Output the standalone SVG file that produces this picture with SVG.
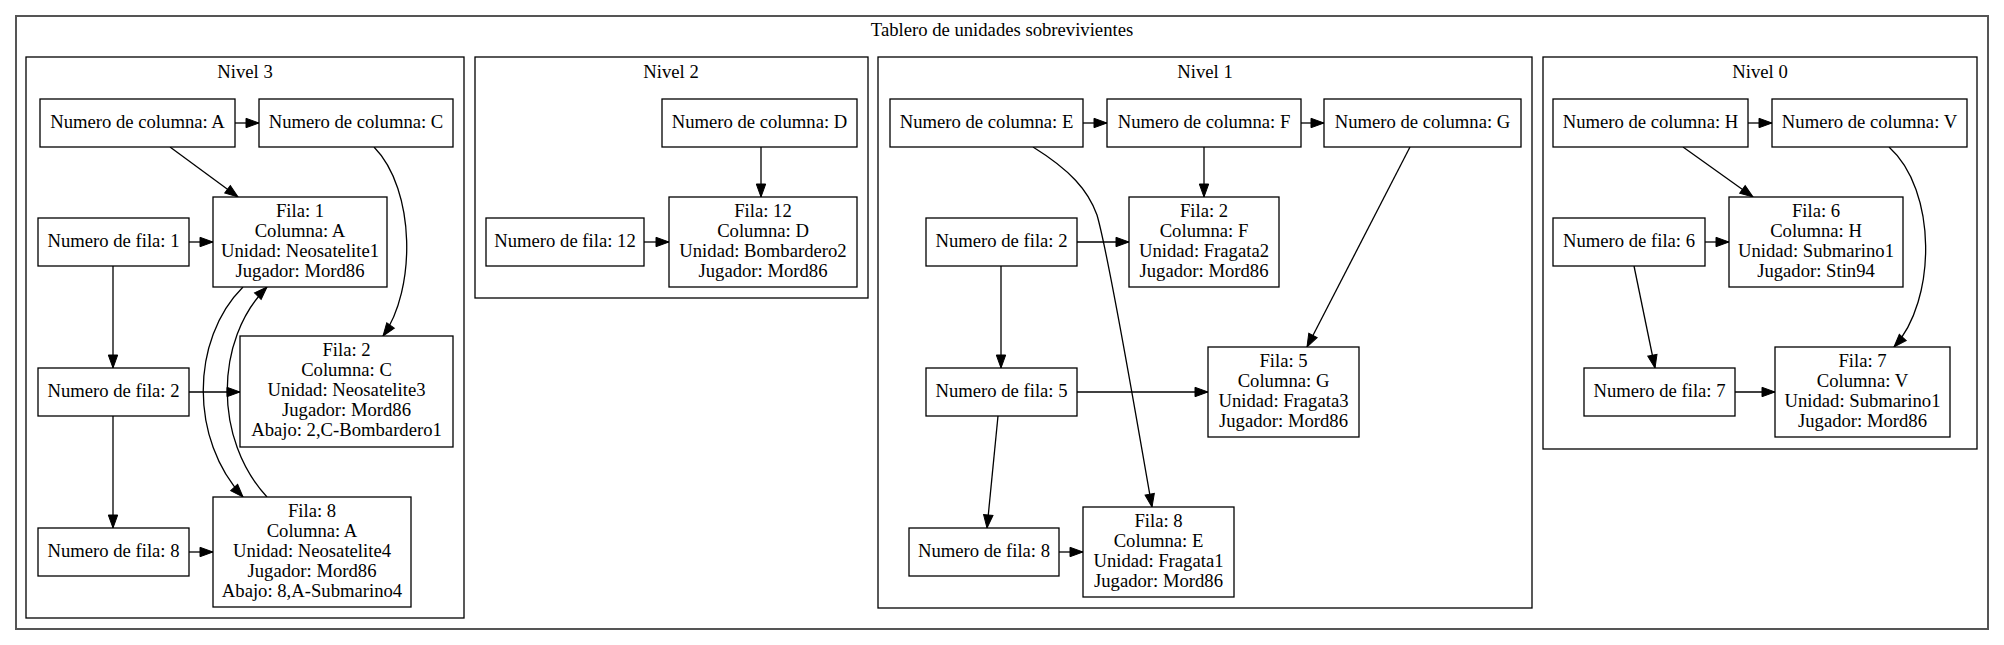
<svg xmlns="http://www.w3.org/2000/svg" width="2004" height="645" viewBox="0 0 2004 645" font-family="'Liberation Serif', 'DejaVu Serif', serif">
<style>
text{font-family:'Liberation Serif','DejaVu Serif',serif;font-size:18.67px;fill:#000;text-anchor:middle}
.cl{fill:none;stroke:#000;stroke-width:1.3}
.nd rect{fill:#fff;stroke:#000;stroke-width:1.3}
.ed path{fill:none;stroke:#000;stroke-width:1.3;marker-end:url(#ah)}
</style>
<defs>
<marker id="ah" markerUnits="userSpaceOnUse" markerWidth="14" markerHeight="10" refX="13" refY="4.7" orient="auto" overflow="visible">
<path d="M0,0 L13,4.7 L0,9.4 z" fill="#000" stroke="#000" stroke-width="1"/>
</marker>
</defs>
<rect x="0" y="0" width="2004" height="645" fill="#fff"/>
<g id="root">
<rect x="16" y="16" width="1972" height="613" fill="none" stroke="#555" stroke-width="2"/>
<text x="1002" y="36">Tablero de unidades sobrevivientes</text>
</g>
<g id="cluster_n3"><rect class="cl" x="26" y="57" width="438" height="561"/><text x="245" y="78">Nivel 3</text></g>
<g id="cluster_n2"><rect class="cl" x="475" y="57" width="393" height="241"/><text x="671" y="78">Nivel 2</text></g>
<g id="cluster_n1"><rect class="cl" x="878" y="57" width="654" height="551"/><text x="1205" y="78">Nivel 1</text></g>
<g id="cluster_n0"><rect class="cl" x="1543" y="57" width="434" height="392"/><text x="1760" y="78">Nivel 0</text></g>

<g id="edges" class="ed">
<path d="M235,123 L259,123"/>
<path d="M170,147 L238,197"/>
<path d="M374,147 C416,190 416,290 383,336"/>
<path d="M189,242 L213,242"/>
<path d="M113,266 L113,368"/>
<path d="M189,392 L240,392"/>
<path d="M113,416 L113,528"/>
<path d="M189,552 L213,552"/>
<path d="M243,287 C190,340 190,440 243,497"/>
<path d="M267,497 C214,440 214,340 267,287"/>
<path d="M761,147 L761,197"/>
<path d="M644,242 L669,242"/>
<path d="M1083,123 L1107,123"/>
<path d="M1301,123 L1324,123"/>
<path d="M1204,147 L1204,197"/>
<path d="M1033,147 C1070,170 1088,190 1097,215 C1110,260 1140,440 1152,507"/>
<path d="M1077,242 L1129,242"/>
<path d="M1001,266 L1001,368"/>
<path d="M1077,392 L1208,392"/>
<path d="M998,416 L987,528"/>
<path d="M1059,552 L1083,552"/>
<path d="M1410,147 L1307,347"/>
<path d="M1748,123 L1772,123"/>
<path d="M1683,147 L1753,197"/>
<path d="M1889,147 C1937,190 1937,300 1894,347"/>
<path d="M1705,242 L1729,242"/>
<path d="M1634,266 L1655,368"/>
<path d="M1735,392 L1775,392"/>
</g>

<g id="n3_colA" class="nd"><rect x="40" y="99" width="195" height="48"/><text x="137.5" y="128">Numero de columna: A</text></g>
<g id="n3_colC" class="nd"><rect x="259" y="99" width="194" height="48"/><text x="356" y="128">Numero de columna: C</text></g>
<g id="n3_fila1" class="nd"><rect x="213" y="197" width="174" height="90"/><text x="300" y="217">Fila: 1</text><text x="300" y="237">Columna: A</text><text x="300" y="257">Unidad: Neosatelite1</text><text x="300" y="277">Jugador: Mord86</text></g>
<g id="n3_row1" class="nd"><rect x="38" y="218" width="151" height="48"/><text x="113.5" y="247">Numero de fila: 1</text></g>
<g id="n3_row2" class="nd"><rect x="38" y="368" width="151" height="48"/><text x="113.5" y="397">Numero de fila: 2</text></g>
<g id="n3_fila2" class="nd"><rect x="240" y="336" width="213" height="111"/><text x="346.5" y="356">Fila: 2</text><text x="346.5" y="376">Columna: C</text><text x="346.5" y="396">Unidad: Neosatelite3</text><text x="346.5" y="416">Jugador: Mord86</text><text x="346.5" y="436">Abajo: 2,C-Bombardero1</text></g>
<g id="n3_row8" class="nd"><rect x="38" y="528" width="151" height="48"/><text x="113.5" y="557">Numero de fila: 8</text></g>
<g id="n3_fila8" class="nd"><rect x="213" y="497" width="198" height="110"/><text x="312" y="517">Fila: 8</text><text x="312" y="537">Columna: A</text><text x="312" y="557">Unidad: Neosatelite4</text><text x="312" y="577">Jugador: Mord86</text><text x="312" y="597">Abajo: 8,A-Submarino4</text></g>

<g id="n2_colD" class="nd"><rect x="662" y="99" width="195" height="48"/><text x="759.5" y="128">Numero de columna: D</text></g>
<g id="n2_fila12" class="nd"><rect x="669" y="197" width="188" height="90"/><text x="763" y="217">Fila: 12</text><text x="763" y="237">Columna: D</text><text x="763" y="257">Unidad: Bombardero2</text><text x="763" y="277">Jugador: Mord86</text></g>
<g id="n2_row12" class="nd"><rect x="486" y="218" width="158" height="48"/><text x="565" y="247">Numero de fila: 12</text></g>

<g id="n1_colE" class="nd"><rect x="890" y="99" width="193" height="48"/><text x="986.5" y="128">Numero de columna: E</text></g>
<g id="n1_colF" class="nd"><rect x="1107" y="99" width="194" height="48"/><text x="1204" y="128">Numero de columna: F</text></g>
<g id="n1_colG" class="nd"><rect x="1324" y="99" width="197" height="48"/><text x="1422.5" y="128">Numero de columna: G</text></g>
<g id="n1_fila2" class="nd"><rect x="1129" y="197" width="150" height="90"/><text x="1204" y="217">Fila: 2</text><text x="1204" y="237">Columna: F</text><text x="1204" y="257">Unidad: Fragata2</text><text x="1204" y="277">Jugador: Mord86</text></g>
<g id="n1_row2" class="nd"><rect x="926" y="218" width="151" height="48"/><text x="1001.5" y="247">Numero de fila: 2</text></g>
<g id="n1_row5" class="nd"><rect x="926" y="368" width="151" height="48"/><text x="1001.5" y="397">Numero de fila: 5</text></g>
<g id="n1_fila5" class="nd"><rect x="1208" y="347" width="151" height="90"/><text x="1283.5" y="367">Fila: 5</text><text x="1283.5" y="387">Columna: G</text><text x="1283.5" y="407">Unidad: Fragata3</text><text x="1283.5" y="427">Jugador: Mord86</text></g>
<g id="n1_row8" class="nd"><rect x="909" y="528" width="150" height="48"/><text x="984" y="557">Numero de fila: 8</text></g>
<g id="n1_fila8" class="nd"><rect x="1083" y="507" width="151" height="90"/><text x="1158.5" y="527">Fila: 8</text><text x="1158.5" y="547">Columna: E</text><text x="1158.5" y="567">Unidad: Fragata1</text><text x="1158.5" y="587">Jugador: Mord86</text></g>

<g id="n0_colH" class="nd"><rect x="1553" y="99" width="195" height="48"/><text x="1650.5" y="128">Numero de columna: H</text></g>
<g id="n0_colV" class="nd"><rect x="1772" y="99" width="195" height="48"/><text x="1869.5" y="128">Numero de columna: V</text></g>
<g id="n0_fila6" class="nd"><rect x="1729" y="197" width="174" height="90"/><text x="1816" y="217">Fila: 6</text><text x="1816" y="237">Columna: H</text><text x="1816" y="257">Unidad: Submarino1</text><text x="1816" y="277">Jugador: Stin94</text></g>
<g id="n0_row6" class="nd"><rect x="1553" y="218" width="152" height="48"/><text x="1629" y="247">Numero de fila: 6</text></g>
<g id="n0_row7" class="nd"><rect x="1584" y="368" width="151" height="48"/><text x="1659.5" y="397">Numero de fila: 7</text></g>
<g id="n0_fila7" class="nd"><rect x="1775" y="347" width="175" height="90"/><text x="1862.5" y="367">Fila: 7</text><text x="1862.5" y="387">Columna: V</text><text x="1862.5" y="407">Unidad: Submarino1</text><text x="1862.5" y="427">Jugador: Mord86</text></g>
</svg>
